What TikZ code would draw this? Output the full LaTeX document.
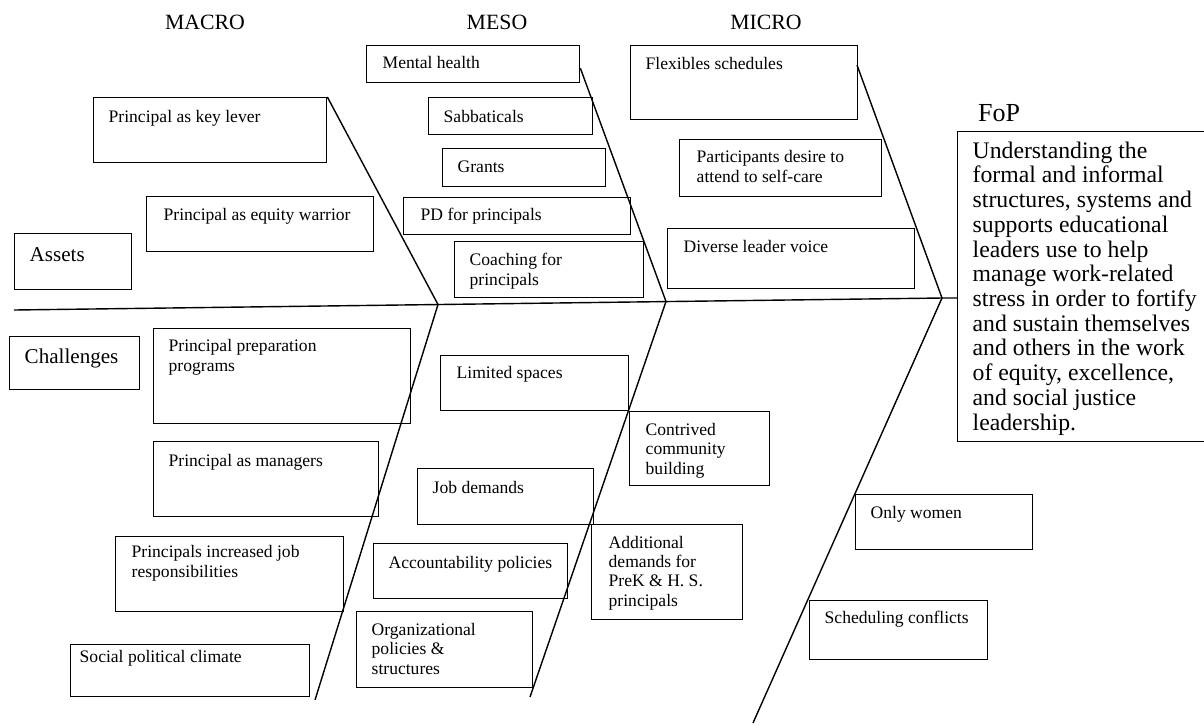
\documentclass[tikz,border=0pt]{standalone}
\usepackage{fontspec}
\setmainfont{Liberation Serif}
\usetikzlibrary{calc}

\begin{document}
\begin{tikzpicture}[x=0.02cm,y=-0.02cm,line width=0.8pt,
  cause/.style={draw,rectangle,anchor=north west,inner sep=0pt},
  txt/.style={anchor=base west,align=left,inner sep=0pt,font=\fontsize{10}{10.9}\selectfont},
  side/.style={anchor=base west,inner sep=0pt,font=\fontsize{12}{13}\selectfont},
  level/.style={inner sep=0pt,font=\fontsize{12.4}{14}\selectfont}]
  \useasboundingbox (0,0) rectangle (1204,725);

  % levels
  \node[level] (macro) at (205,22) {MACRO};
  \node[level] (meso) at (497,22) {MESO};
  \node[level] (micro) at (766,22) {MICRO};
  \node[inner sep=0pt,font=\fontsize{14.8}{16}\selectfont] (foplbl) at (999,113) {FoP};

  % assets (multi-line texts sit on their last baseline)
  \node[cause,minimum width=2.34cm,minimum height=1.12cm] (assets) at (14,233) {};
  \node[side] (assets-t) at (29,261) {Assets};
  \node[cause,minimum width=4.66cm,minimum height=1.30cm] (keylever) at (93,97) {};
  \node[txt] (keylever-t) at (108,122) {Principal as key lever};
  \node[cause,minimum width=4.54cm,minimum height=1.10cm] (warrior) at (146,196) {};
  \node[txt] (warrior-t) at (163,220) {Principal as equity warrior};
  \node[cause,minimum width=4.26cm,minimum height=0.74cm] (mental) at (366,45) {};
  \node[txt] (mental-t) at (382,68) {Mental health};
  \node[cause,minimum width=3.28cm,minimum height=0.74cm] (sabb) at (428,97) {};
  \node[txt] (sabb-t) at (443,122) {Sabbaticals};
  \node[cause,minimum width=3.26cm,minimum height=0.76cm] (grants) at (442,148) {};
  \node[txt] (grants-t) at (457,172) {Grants};
  \node[cause,minimum width=4.54cm,minimum height=0.74cm] (pd) at (403,197) {};
  \node[txt] (pd-t) at (420,220) {PD for principals};
  \node[cause,minimum width=3.78cm,minimum height=1.12cm] (coach) at (454,241) {};
  \node[txt] (coach-t) at (469,285) {Coaching for\\ principals};
  \node[cause,minimum width=4.54cm,minimum height=1.48cm] (flex) at (630,45) {};
  \node[txt] (flex-t) at (645,69) {Flexibles schedules};
  \node[cause,minimum width=4.04cm,minimum height=1.14cm] (selfcare) at (679,139) {};
  \node[txt] (selfcare-t) at (696,182) {Participants desire to\\ attend to self-care};
  \node[cause,minimum width=4.94cm,minimum height=1.20cm] (voice) at (667,228) {};
  \node[txt] (voice-t) at (683,252) {Diverse leader voice};

  % focus of practice
  \node[cause,minimum width=5.06cm,minimum height=6.20cm] (fop) at (957,131) {};
  \node[txt,font=\fontsize{13.5}{14.06}\selectfont] (fop-t) at (972,430)
    {Understanding the\\ formal and informal\\ structures, systems and\\ supports educational\\
     leaders use to help\\ manage work-related\\ stress in order to fortify\\ and sustain themselves\\
     and others in the work\\ of equity, excellence,\\ and social justice\\ leadership.};

  % challenges
  \node[cause,minimum width=2.60cm,minimum height=1.06cm] (chall) at (9,336) {};
  \node[side] (chall-t) at (24,363) {Challenges};
  \node[cause,minimum width=5.14cm,minimum height=1.90cm] (prep) at (153,328) {};
  \node[txt] (prep-t) at (168,371) {Principal preparation\\ programs};
  \node[cause,minimum width=4.50cm,minimum height=1.50cm] (managers) at (153,441) {};
  \node[txt] (managers-t) at (168,466) {Principal as managers};
  \node[cause,minimum width=4.56cm,minimum height=1.50cm] (jobresp) at (115,536) {};
  \node[txt] (jobresp-t) at (131,577) {Principals increased job\\ responsibilities};
  \node[cause,minimum width=4.78cm,minimum height=1.04cm] (climate) at (70,644) {};
  \node[txt] (climate-t) at (79,662) {Social political climate};
  \node[cause,minimum width=3.76cm,minimum height=1.10cm] (spaces) at (440,355) {};
  \node[txt] (spaces-t) at (456,378) {Limited spaces};
  \node[cause,minimum width=2.80cm,minimum height=1.48cm] (contrived) at (629,411) {};
  \node[txt] (contrived-t) at (645,474) {Contrived\\ community\\ building};
  \node[cause,minimum width=3.52cm,minimum height=1.12cm] (jobdem) at (417,468) {};
  \node[txt] (jobdem-t) at (432,493) {Job demands};
  \node[cause,minimum width=3.02cm,minimum height=1.90cm] (addl) at (591,524) {};
  \node[txt] (addl-t) at (608,606) {Additional\\ demands for\\ PreK \& H. S.\\ principals};
  \node[cause,minimum width=3.88cm,minimum height=1.10cm] (account) at (373,543) {};
  \node[txt] (account-t) at (388,568) {Accountability policies};
  \node[cause,minimum width=3.52cm,minimum height=1.52cm] (orgpol) at (356,611) {};
  \node[txt] (orgpol-t) at (371,674) {Organizational\\ policies \&\\ structures};
  \node[cause,minimum width=3.54cm,minimum height=1.10cm] (women) at (855,494) {};
  \node[txt] (women-t) at (870,518) {Only women};
  \node[cause,minimum width=3.56cm,minimum height=1.18cm] (sched) at (809,600) {};
  \node[txt] (sched-t) at (824,623) {Scheduling conflicts};

  % spine and bones
  \coordinate (tail) at (14,310);
  \coordinate (jmacro) at (438,304.5);
  \coordinate (jmeso) at (666,301.5);
  \coordinate (head) at (942,298);
  \coordinate (flexend) at (857,65);
  \coordinate (macroend) at (315,700);
  \coordinate (mesoend) at (530,697);
  \coordinate (microend) at (753,723);
  \draw (tail) -- (head) -- (head -| fop.west);
  \draw (keylever.north east) -- (jmacro) -- (macroend);
  \draw ($(mental.east)+(0,4)$) -- (jmeso) -- (mesoend);
  \draw (flexend) -- (head) -- (microend);
\end{tikzpicture}
\end{document}
